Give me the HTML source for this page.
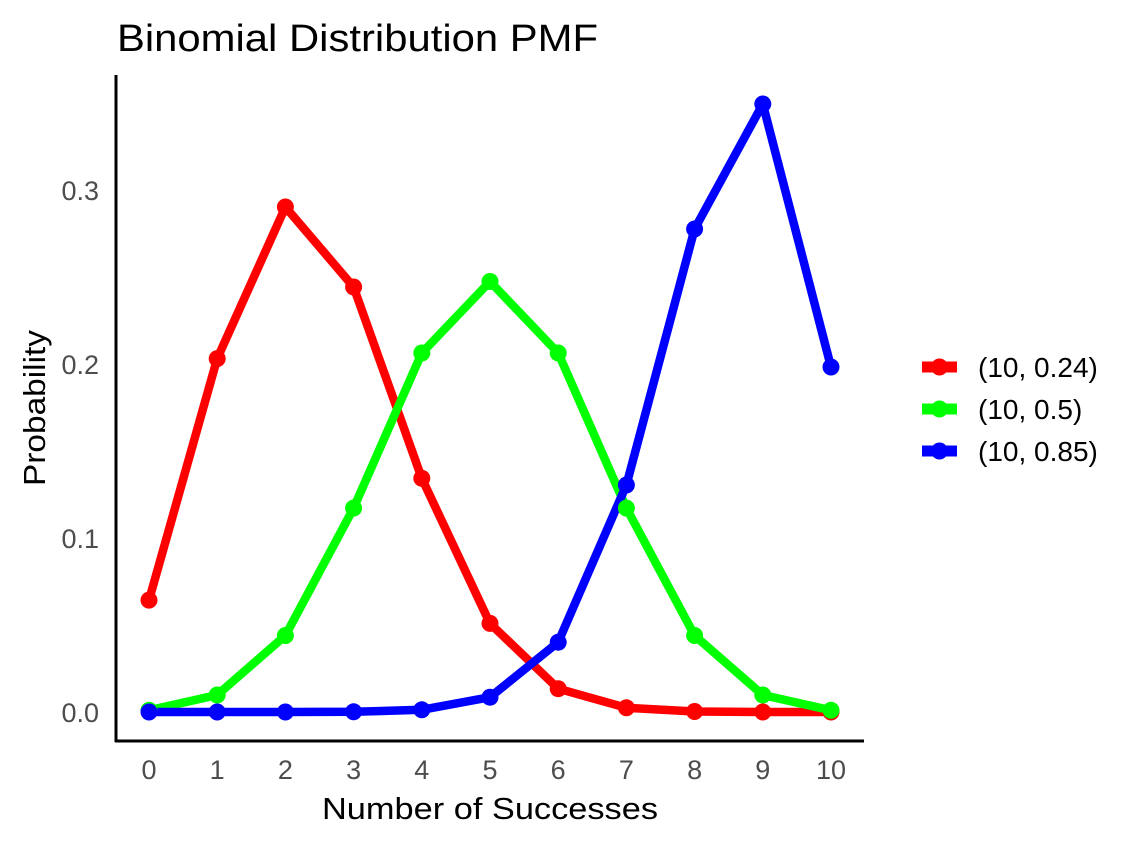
<!DOCTYPE html>
<html><head><meta charset="utf-8"><style>body{margin:0;background:#fff}svg{display:block}</style></head>
<body>
<svg width="1137" height="845" xmlns="http://www.w3.org/2000/svg" font-family="Liberation Sans, sans-serif">
<rect width="1137" height="845" fill="#fff"/>
<text x="117" y="51" font-size="38" textLength="481" lengthAdjust="spacingAndGlyphs" fill="#000">Binomial Distribution PMF</text>
<line x1="116" y1="75" x2="116" y2="742" stroke="#000" stroke-width="3"/>
<line x1="115" y1="741" x2="864" y2="741" stroke="#000" stroke-width="3"/>
<g font-size="27" fill="#4d4d4d" text-anchor="end">
<text x="99" y="722">0.0</text><text x="99" y="548">0.1</text><text x="99" y="374">0.2</text><text x="99" y="200">0.3</text>
</g>
<g font-size="27" fill="#4d4d4d" text-anchor="middle">
<text x="149" y="779">0</text><text x="217.2" y="779">1</text><text x="285.4" y="779">2</text><text x="353.6" y="779">3</text><text x="421.8" y="779">4</text><text x="490" y="779">5</text><text x="558.2" y="779">6</text><text x="626.4" y="779">7</text><text x="694.6" y="779">8</text><text x="762.8" y="779">9</text><text x="831" y="779">10</text>
</g>
<text x="490" y="819" font-size="31" textLength="336" lengthAdjust="spacingAndGlyphs" text-anchor="middle">Number of Successes</text>
<text transform="translate(45,408) rotate(-90)" font-size="31" textLength="156" lengthAdjust="spacingAndGlyphs" text-anchor="middle">Probability</text>
<g fill="none" stroke-width="8.5" stroke-linejoin="round">
<polyline stroke="#f00" points="149,600.1 217.2,358.6 285.4,207 353.6,287 421.8,478.3 490,623.4 558.2,688.7 626.4,707.8 694.6,711.5 762.8,712 831,712"/>
<polyline stroke="#0f0" points="149,710.3 217.2,695 285.4,635.5 353.6,508.1 421.8,353 490,281.5 558.2,353 626.4,508.1 694.6,635.5 762.8,695 831,710.3"/>
<polyline stroke="#00f" points="149,712 217.2,712 285.4,712 353.6,711.8 421.8,709.8 490,697.2 558.2,642.2 626.4,485 694.6,229 762.8,104 831,367"/>
</g>
<g fill="#f00"><circle cx="149" cy="600.1" r="8.5"/><circle cx="217.2" cy="358.6" r="8.5"/><circle cx="285.4" cy="207" r="8.5"/><circle cx="353.6" cy="287" r="8.5"/><circle cx="421.8" cy="478.3" r="8.5"/><circle cx="490" cy="623.4" r="8.5"/><circle cx="558.2" cy="688.7" r="8.5"/><circle cx="626.4" cy="707.8" r="8.5"/><circle cx="694.6" cy="711.5" r="8.5"/><circle cx="762.8" cy="712" r="8.5"/><circle cx="831" cy="712" r="8.5"/></g>
<g fill="#0f0"><circle cx="149" cy="710.3" r="8.5"/><circle cx="217.2" cy="695" r="8.5"/><circle cx="285.4" cy="635.5" r="8.5"/><circle cx="353.6" cy="508.1" r="8.5"/><circle cx="421.8" cy="353" r="8.5"/><circle cx="490" cy="281.5" r="8.5"/><circle cx="558.2" cy="353" r="8.5"/><circle cx="626.4" cy="508.1" r="8.5"/><circle cx="694.6" cy="635.5" r="8.5"/><circle cx="762.8" cy="695" r="8.5"/><circle cx="831" cy="710.3" r="8.5"/></g>
<g fill="#00f"><circle cx="149" cy="712" r="8.5"/><circle cx="217.2" cy="712" r="8.5"/><circle cx="285.4" cy="712" r="8.5"/><circle cx="353.6" cy="711.8" r="8.5"/><circle cx="421.8" cy="709.8" r="8.5"/><circle cx="490" cy="697.2" r="8.5"/><circle cx="558.2" cy="642.2" r="8.5"/><circle cx="626.4" cy="485" r="8.5"/><circle cx="694.6" cy="229" r="8.5"/><circle cx="762.8" cy="104" r="8.5"/><circle cx="831" cy="367" r="8.5"/></g>
<g stroke-width="11">
<line x1="922" y1="367" x2="957" y2="367" stroke="#f00"/><circle cx="939.5" cy="367" r="8.5" fill="#f00"/>
<line x1="922" y1="409" x2="957" y2="409" stroke="#0f0"/><circle cx="939.5" cy="409" r="8.5" fill="#0f0"/>
<line x1="922" y1="451" x2="957" y2="451" stroke="#00f"/><circle cx="939.5" cy="451" r="8.5" fill="#00f"/>
</g>
<g font-size="28" fill="#000">
<text x="978" y="377">(10, 0.24)</text><text x="978" y="419">(10, 0.5)</text><text x="978" y="461">(10, 0.85)</text>
</g>
</svg>
</body></html>
